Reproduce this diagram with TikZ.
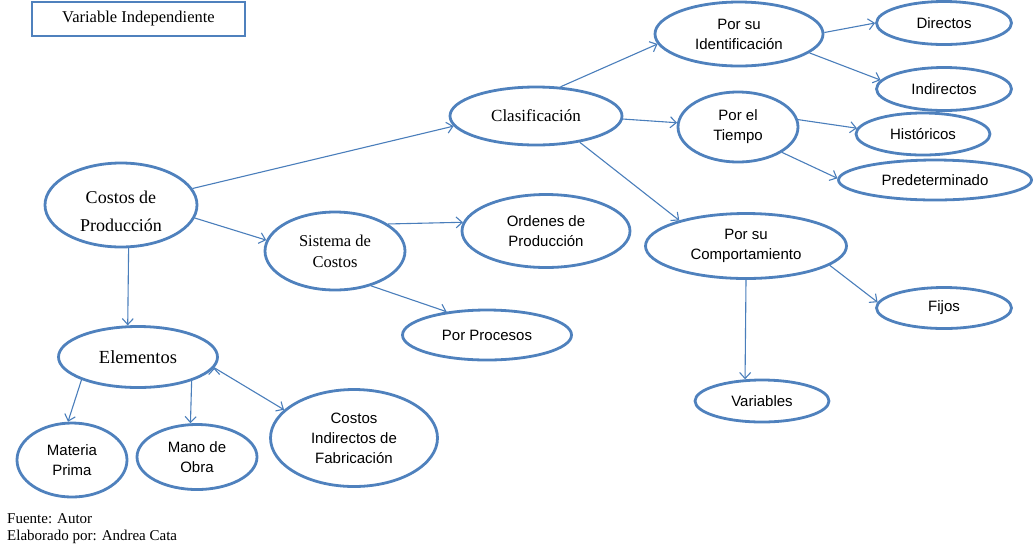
\documentclass[tikz,border=0pt]{standalone}
\usepackage{fontspec}
\setmainfont{Liberation Serif}
\setsansfont{Liberation Sans}
\usetikzlibrary{shapes.geometric,arrows.meta}
\definecolor{azulborde}{RGB}{79,129,189}
\definecolor{azulflecha}{RGB}{74,126,187}

\begin{document}
\begin{tikzpicture}[x=1pt,y=-1pt,
  main node/.style={ellipse,draw=azulborde,line width=2.8pt,inner sep=0pt,align=center},
  sans node/.style={main node,font=\sffamily\fontsize{15}{20}\selectfont},
  serif node/.style={main node,font=\fontsize{16.5}{21}\selectfont},
  flecha/.style={->,>={Straight Barb[length=6pt,width=11pt]},draw=azulflecha,line width=1.1pt}]

  \useasboundingbox (0,0) rectangle (1035,550);

  \node[draw=azulborde,line width=2.8pt,minimum width=213pt,minimum height=34pt,inner sep=0pt,font=\fontsize{16.5}{19}\selectfont] (titulo) at (138.5,19) {Variable Independiente};

  \node[serif node,minimum width=152pt,minimum height=84pt,font=\fontsize{18}{28}\selectfont] (costos) at (121,205) {\rule{0pt}{26pt}Costos de\\Producción};
  \node[serif node,minimum width=172pt,minimum height=58pt,font=\fontsize{17}{21}\selectfont] (clasif) at (536,116) {Clasificación};
  \node[serif node,minimum width=140pt,minimum height=78pt] (sistema) at (335,251) {Sistema de\\Costos};
  \node[serif node,minimum width=159pt,minimum height=61pt,font=\fontsize{18.5}{22}\selectfont] (elementos) at (138,357) {Elementos};

  \node[sans node,minimum width=168pt,minimum height=73pt] (ordenes) at (546,231) {Ordenes de\\Producción};
  \node[sans node,minimum width=169pt,minimum height=50pt] (procesos) at (487,335) {Por Procesos};
  \node[sans node,minimum width=168pt,minimum height=64pt] (ident) at (739,34) {Por su\\Identificación};
  \node[sans node,minimum width=135pt,minimum height=43pt] (directos) at (944,23) {Directos};
  \node[sans node,minimum width=135pt,minimum height=43pt] (indirectos) at (944,89) {Indirectos};
  \node[sans node,minimum width=120pt,minimum height=70pt] (tiempo) at (738,127) {Por el\\Tiempo};
  \node[sans node,minimum width=134pt,minimum height=42pt] (historicos) at (923,134) {Históricos};
  \node[sans node,minimum width=193pt,minimum height=40pt] (predet) at (935,180) {Predeterminado};
  \node[sans node,minimum width=201pt,minimum height=65pt] (comport) at (746,246) {Por su\\Comportamiento};
  \node[sans node,minimum width=135pt,minimum height=41pt] (fijos) at (944,308) {Fijos};
  \node[sans node,minimum width=134pt,minimum height=42pt] (variables) at (762,401) {Variables};
  \node[sans node,minimum width=110pt,minimum height=74pt] (materia) at (72,460) {Materia\\Prima};
  \node[sans node,minimum width=120pt,minimum height=65pt] (mano) at (197,457) {Mano de\\Obra};
  \node[sans node,minimum width=167pt,minimum height=97pt] (cif) at (354,438) {Costos\\Indirectos de\\Fabricación};

  \node[anchor=base west,inner sep=0pt,font=\fontsize{15}{18}\selectfont] (fuente) at (7,523) {Fuente: Autor};
  \node[anchor=base west,inner sep=0pt,font=\fontsize{15}{18}\selectfont] (elaborado) at (7,540) {Elaborado por: Andrea Cata};

  \path[flecha]
    (costos.13) edge (clasif.187)
    (costos.350) edge (sistema.171)
    (costos.280) edge (elementos.108)
    (sistema.27) edge (ordenes.174)
    (sistema.316) edge (procesos.150)
    (clasif.50) edge (ident.187)
    (clasif.358) edge (tiempo.176)
    (clasif.329) edge (comport.159)
    (ident.1) edge (directos.180)
    (ident.345) edge (indirectos.172)
    (tiempo.7) edge (historicos.175)
    (tiempo.330) edge (predet.179)
    (comport.347) edge (fijos.175)
    (comport.270) edge (variables.128)
    (elementos.202) edge (materia.96)
    (elementos.336) edge (mano.101)
    (elementos.352) edge (cif.158);
\end{tikzpicture}
\end{document}
